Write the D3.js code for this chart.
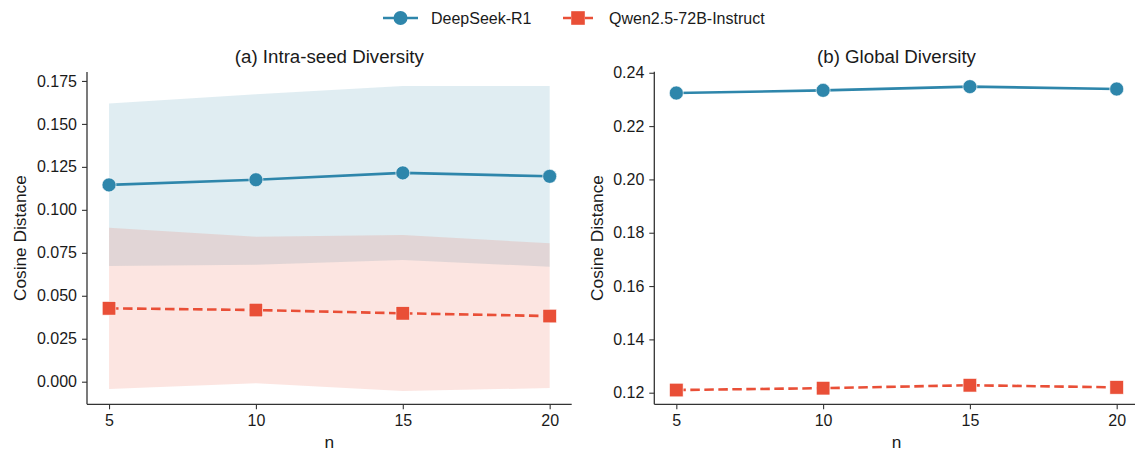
<!DOCTYPE html>
<html>
<head>
<meta charset="utf-8">
<script src="https://cdn.jsdelivr.net/npm/d3@7"></script>
<style>
  html, body { margin: 0; padding: 0; background: #fff; }
  svg { display: block; font-family: "Liberation Sans", Arial, Helvetica, sans-serif; }
</style>
</head>
<body>
<svg id="chart" width="1135" height="453"></svg>
<script>
// Sample sizes on the x axis
const nValues = [5, 10, 15, 20];

// (a) Intra-seed diversity: mean and shaded band bounds
const intraDeepSeek = [0.1145, 0.1175, 0.1215, 0.1195];
const intraDeepSeekLow = [0.0673, 0.0681, 0.0708, 0.0669];
const intraDeepSeekHigh = [0.1618, 0.1672, 0.1721, 0.1721];
const intraQwen = [0.0427, 0.0417, 0.0398, 0.0382];
const intraQwenLow = [-0.0042, -0.0009, -0.0054, -0.0037];
const intraQwenHigh = [0.0896, 0.0844, 0.0854, 0.0805];

// (b) Global diversity
const globalDeepSeek = [0.2324, 0.2334, 0.2348, 0.2339];
const globalQwen = [0.1210, 0.1217, 0.1228, 0.1220];

// Tick labels
const intraTicks = [0.000, 0.025, 0.050, 0.075, 0.100, 0.125, 0.150, 0.175];
const globalTicks = [0.12, 0.14, 0.16, 0.18, 0.20, 0.22, 0.24];

const seriesNames = ["DeepSeek-R1", "Qwen2.5-72B-Instruct"];
const blue = "#2e86ab";
const red = "#e94f37";

const svg = d3.select("#chart");
const axisColor = "#333";
const textColor = "#1a1a1a";

function drawPanel(opts) {
  const { left, right, top, bottom, yDomain, ticks, fmt, title, labelX, series } = opts;
  const x = d3.scaleLinear().domain([4.25, 20.75]).range([left, right]);
  const y = d3.scaleLinear().domain(yDomain).range([bottom, top]);
  const g = svg.append("g");

  // shaded bands (mean ± spread)
  series.forEach(s => {
    if (!s.low) return;
    const area = d3.area()
      .x((d, i) => x(nValues[i]))
      .y0((d, i) => y(s.low[i]))
      .y1((d, i) => y(s.high[i]));
    g.append("path").datum(s.values).attr("d", area)
      .attr("fill", s.color).attr("fill-opacity", 0.15);
  });

  // lines and markers
  series.forEach(s => {
    const line = d3.line().x((d, i) => x(nValues[i])).y(d => y(d));
    g.append("path").datum(s.values).attr("d", line)
      .attr("fill", "none").attr("stroke", s.color).attr("stroke-width", 2.6)
      .attr("stroke-dasharray", s.dash ? "9.5,4.5" : null);
    s.values.forEach((v, i) => {
      if (s.marker === "circle") {
        g.append("circle").attr("cx", x(nValues[i])).attr("cy", y(v)).attr("r", 7)
          .attr("fill", s.color).attr("stroke", "#fff").attr("stroke-width", 0.6);
      } else {
        g.append("rect").attr("x", x(nValues[i]) - 6.8).attr("y", y(v) - 6.8)
          .attr("width", 13.6).attr("height", 13.6)
          .attr("fill", s.color).attr("stroke", "#fff").attr("stroke-width", 0.6);
      }
    });
  });

  // axes
  const xAxis = d3.axisBottom(x).tickValues(nValues).tickSize(5).tickPadding(5);
  const yAxis = d3.axisLeft(y).tickValues(ticks).tickFormat(fmt).tickSize(5).tickPadding(5);
  const gx = g.append("g").attr("transform", `translate(0,${bottom})`).call(xAxis);
  const gy = g.append("g").attr("transform", `translate(${left},0)`).call(yAxis);
  [gx, gy].forEach(a => {
    a.select(".domain").attr("stroke", axisColor).attr("stroke-width", 1.3);
    a.selectAll(".tick line").attr("stroke", axisColor).attr("stroke-width", 1.1);
    a.selectAll(".tick text").attr("fill", textColor).style("font-size", "16px");
  });
  gx.select(".domain").attr("d", `M${left},0H${right}`);
  gy.select(".domain").attr("d", `M0,${top}V${bottom}`);

  g.append("text").attr("x", (left + right) / 2).attr("y", 63)
    .attr("text-anchor", "middle").style("font-size", "18.7px").attr("fill", textColor)
    .text(title);
  g.append("text").attr("x", (left + right) / 2).attr("y", 448)
    .attr("text-anchor", "middle").style("font-size", "17.3px").attr("fill", textColor)
    .text("n");
  g.append("text")
    .attr("transform", `translate(${labelX},${(top + bottom) / 2}) rotate(-90)`)
    .attr("text-anchor", "middle").style("font-size", "17.3px").attr("fill", textColor)
    .text("Cosine Distance");
}

drawPanel({
  left: 87, right: 571.7, top: 72, bottom: 404.3, labelX: 26,
  yDomain: [-0.01315, 0.1802], ticks: intraTicks, fmt: d3.format(".3f"),
  title: "(a) Intra-seed Diversity",
  series: [
    { values: intraDeepSeek, low: intraDeepSeekLow, high: intraDeepSeekHigh, color: blue, marker: "circle" },
    { values: intraQwen, low: intraQwenLow, high: intraQwenHigh, color: red, marker: "square", dash: true }
  ]
});

drawPanel({
  left: 654.3, right: 1138.7, top: 71.7, bottom: 404.3, labelX: 603,
  yDomain: [0.11565, 0.2404], ticks: globalTicks, fmt: d3.format(".2f"),
  title: "(b) Global Diversity",
  series: [
    { values: globalDeepSeek, color: blue, marker: "circle" },
    { values: globalQwen, color: red, marker: "square", dash: true }
  ]
});

// legend
const legend = svg.append("g");
const legendItems = [
  { name: seriesNames[0], color: blue, marker: "circle", x0: 383, x1: 418, tx: 431 },
  { name: seriesNames[1], color: red, marker: "square", x0: 563, x1: 593, tx: 609 }
];
legendItems.forEach(it => {
  const cy = 18;
  legend.append("line").attr("x1", it.x0).attr("x2", it.x1).attr("y1", cy).attr("y2", cy)
    .attr("stroke", it.color).attr("stroke-width", 2.6)
    .attr("stroke-dasharray", it.marker === "square" ? "8,14" : null);
  const cx = (it.x0 + it.x1) / 2;
  if (it.marker === "circle") {
    legend.append("circle").attr("cx", cx).attr("cy", cy).attr("r", 7).attr("fill", it.color);
  } else {
    legend.append("rect").attr("x", cx - 6.8).attr("y", cy - 6.8).attr("width", 13.6).attr("height", 13.6)
      .attr("fill", it.color);
  }
  legend.append("text").attr("x", it.tx).attr("y", cy + 5.5).style("font-size", "16px")
    .attr("fill", textColor).text(it.name);
});
</script>
</body>
</html>
